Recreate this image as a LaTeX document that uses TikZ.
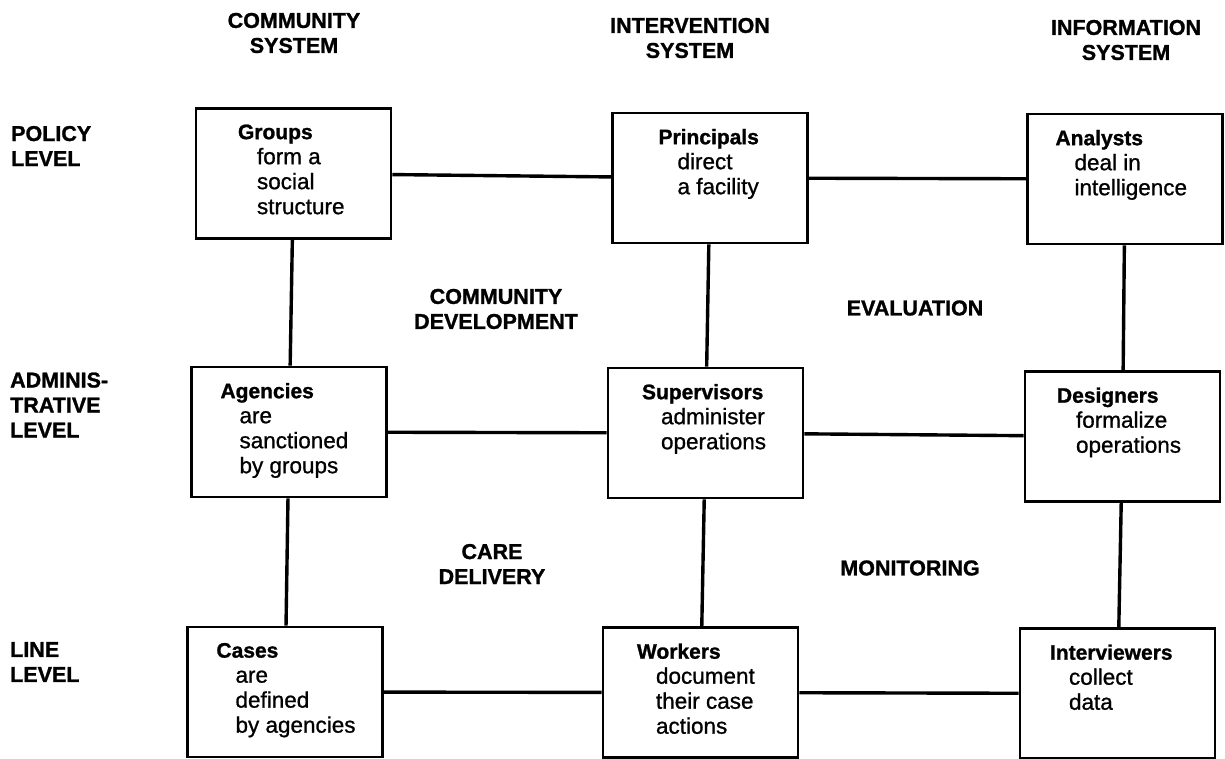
\documentclass[tikz,border=0pt]{standalone}
\usepackage{fontspec}
\setmainfont{Liberation Sans}
\newfontfamily\medfont[FakeBold=0.9]{Liberation Sans}
\newfontfamily\headfont[FakeBold=1.2]{Liberation Sans Bold}
\usetikzlibrary{positioning}

% box text: bold first line, the rest indented
\newcommand{\cellbody}[3]{%
  \parbox[c][98pt][t]{195pt}{\parindent=0pt\raggedright\leftskip=#1pt
    \fontsize{21}{25}\headfont #2\par
    \leftskip=\dimexpr#1pt+19pt\relax
    \fontsize{22.5}{25}\medfont #3\par}}

\begin{document}
\begin{tikzpicture}[x=1pt, y=-1pt,
    cell/.style={draw, line width=2.8pt, inner sep=0pt,
        minimum width=195pt, minimum height=130pt},
    link/.style={line width=3.4pt},
    heading/.style={font=\fontsize{21.5}{25}\headfont, align=center, inner sep=0pt}]
    \useasboundingbox (0,0) rectangle (1225,759);

    % column and row headings
    \node[heading] at (294,33) (commsys) {COMMUNITY\\SYSTEM};
    \node[heading] at (690,38) (intsys) {INTERVENTION\\SYSTEM};
    \node[heading] at (1126,40) (infsys) {INFORMATION\\SYSTEM};
    \node[heading, align=left, anchor=west] at (11,146) (policy) {POLICY\\LEVEL};
    \node[heading, align=left, anchor=west] at (10,405) (admin) {ADMINIS-\\TRATIVE\\LEVEL};
    \node[heading, align=left, anchor=west] at (10,662) (line) {LINE\\LEVEL};

    % the nine boxes
    \node[cell] at (293.5,173.5) (groups) {\cellbody{42}{Groups}{form a\\social\\structure}};
    \node[cell] at (710,178) (principals) {\cellbody{46}{Principals}{direct\\a facility}};
    \node[cell] at (1125,179) (analysts) {\cellbody{28}{Analysts}{deal in\\intelligence}};
    \node[cell] at (289,432) (agencies) {\cellbody{29}{Agencies}{are\\sanctioned\\by groups}};
    \node[cell] at (705.5,433) (supervisors) {\cellbody{34}{Supervisors}{administer\\operations}};
    \node[cell] at (1122.5,436.5) (designers) {\cellbody{32}{Designers}{formalize\\operations}};
    \node[cell] at (285,692) (cases) {\cellbody{29}{Cases}{are\\defined\\by agencies}};
    \node[cell] at (700.5,692.5) (workers) {\cellbody{34}{Workers}{document\\their case\\actions}};
    \node[cell] at (1117.5,693.5) (interviewers) {\cellbody{30}{Interviewers}{collect\\data}};

    % labels between the boxes
    \node[heading] at (496,309) (commdev) {COMMUNITY\\DEVELOPMENT};
    \node[heading] at (915,308) (evaluation) {EVALUATION};
    \node[heading] at (492,564) (care) {CARE\\DELIVERY};
    \node[heading] at (910,568) (monitoring) {MONITORING};

    % connectors
    \draw[link] (groups) -- (principals);
    \draw[link] (principals) -- (analysts);
    \draw[link] (agencies) -- (supervisors);
    \draw[link] (supervisors) -- (designers);
    \draw[link] (cases) -- (workers);
    \draw[link] (workers) -- (interviewers);
    \draw[link] (groups) -- (agencies);
    \draw[link] (agencies) -- (cases);
    \draw[link] (principals) -- (supervisors);
    \draw[link] (supervisors) -- (workers);
    \draw[link] (analysts) -- (designers);
    \draw[link] (designers) -- (interviewers);
\end{tikzpicture}
\end{document}
